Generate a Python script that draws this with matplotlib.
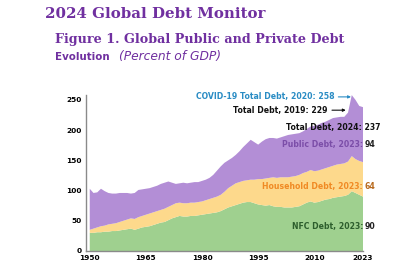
import matplotlib.pyplot as plt

years = list(range(1950, 2024))

nfc = [30, 30, 31, 31, 32, 32, 33, 33, 34, 35, 36, 37, 35, 37, 39, 40, 41, 43, 45, 47,
       48, 51, 54, 56, 58, 57, 57, 58, 58, 59, 60, 61, 62, 63, 64, 66, 69, 72, 74, 76,
       78, 80, 81, 81, 79, 77, 76, 75, 76, 74, 73, 73, 72, 72, 72, 73, 74, 77, 80, 82,
       80, 81, 83, 85, 86, 88, 89, 90, 91, 93, 99, 96, 93, 90]

household = [5, 7, 8, 10, 10, 12, 12, 13, 14, 15, 16, 17, 18, 19, 19, 20, 21, 21, 21, 21,
             22, 22, 22, 23, 22, 22, 22, 22, 22, 22, 22, 23, 24, 25, 26, 27, 29, 32, 34, 36,
             36, 36, 36, 37, 39, 42, 43, 45, 45, 48, 48, 49, 50, 50, 51, 51, 52, 52, 51, 52,
             52, 52, 52, 52, 53, 53, 54, 54, 54, 55, 58, 56, 56, 57]

public = [68, 59, 58, 62, 57, 52, 50, 49, 48, 46, 44, 41, 43, 45, 44, 43, 42, 42, 42, 43,
          43, 42, 37, 32, 32, 34, 33, 33, 34, 33, 34, 34, 35, 38, 43, 47, 48, 46, 46, 47,
          51, 56, 61, 66, 62, 57, 62, 65, 66, 65, 65, 66, 68, 70, 70, 70, 69, 69, 71, 72,
          75, 76, 77, 77, 78, 79, 78, 78, 77, 81, 101, 98, 91, 91]

xticks = [1950, 1965, 1980, 1995, 2010, 2023]
yticks = [0, 50, 100, 150, 200, 250]

purple_txt = '#7030a0'

fig = plt.figure(figsize=(4, 2.74), dpi=100)

fig.text(0.112, 0.948, '2024 Global Debt Monitor', family='DejaVu Serif',
         fontweight='bold', fontsize=10.8, color=purple_txt, va='center')
fig.text(0.137, 0.855, 'Figure 1. Global Public and Private Debt', family='DejaVu Serif',
         fontweight='bold', fontsize=9.2, color=purple_txt, va='center')
fig.text(0.137, 0.793, 'Evolution', fontweight='bold', fontsize=7.4,
         color=purple_txt, va='center')
fig.text(0.297, 0.793, '(Percent of GDP)', style='italic', fontsize=8.8,
         color=purple_txt, va='center')

ax = fig.add_axes([0.215, 0.084, 0.6925, 0.569])
ax.stackplot(years, nfc, household, public,
             colors=['#9fd08f', '#fdd98c', '#b38ed6'], linewidth=0)

ax.set_xlim(1949, 2023)
ax.set_ylim(0, 258)
ax.set_xticks(xticks)
ax.set_yticks(yticks)
ax.tick_params(length=0, labelsize=5.3, pad=3)
for lab in ax.get_xticklabels() + ax.get_yticklabels():
    lab.set_fontweight('bold')
for s in ['top', 'right']:
    ax.spines[s].set_visible(False)
for s in ['left', 'bottom']:
    ax.spines[s].set_color('#8a8a8a')
    ax.spines[s].set_linewidth(1.0)

fs = 5.6
ax.annotate('COVID-19 Total Debt, 2020: 258', xy=(2019.8, 255), xytext=(2015.3, 255),
            ha='right', va='center', fontsize=fs, fontweight='bold', color='#2a8cc4',
            arrowprops=dict(arrowstyle='-|>', color='#2a8cc4', lw=0.8,
                            mutation_scale=4, shrinkA=1, shrinkB=0),
            annotation_clip=False)
ax.annotate('Total Debt, 2019: 229', xy=(2018.4, 233), xytext=(2013.6, 233),
            ha='right', va='center', fontsize=fs, fontweight='bold', color='#111111',
            arrowprops=dict(arrowstyle='-|>', color='#111111', lw=0.8,
                            mutation_scale=4, shrinkA=1, shrinkB=0),
            annotation_clip=False)
ax.text(2027.7, 205, 'Total Debt, 2024: 237', ha='right', va='center',
        fontsize=fs, fontweight='bold', color='#111111')

ax.text(2023, 177, 'Public Debt, 2023:', ha='right', va='center',
        fontsize=fs, fontweight='bold', color='#7b4ea8')
ax.text(2023.4, 177, '94', ha='left', va='center',
        fontsize=fs, fontweight='bold', color='#222222')
ax.text(2023, 106, 'Household Debt, 2023:', ha='right', va='center',
        fontsize=fs, fontweight='bold', color='#f08a24')
ax.text(2023.4, 106, '64', ha='left', va='center',
        fontsize=fs, fontweight='bold', color='#b86a1e')
ax.text(2023, 40, 'NFC Debt, 2023:', ha='right', va='center',
        fontsize=fs, fontweight='bold', color='#2d5e2d')
ax.text(2023.4, 40, '90', ha='left', va='center',
        fontsize=fs, fontweight='bold', color='#222222')

fig.savefig('out.png', dpi=100)
